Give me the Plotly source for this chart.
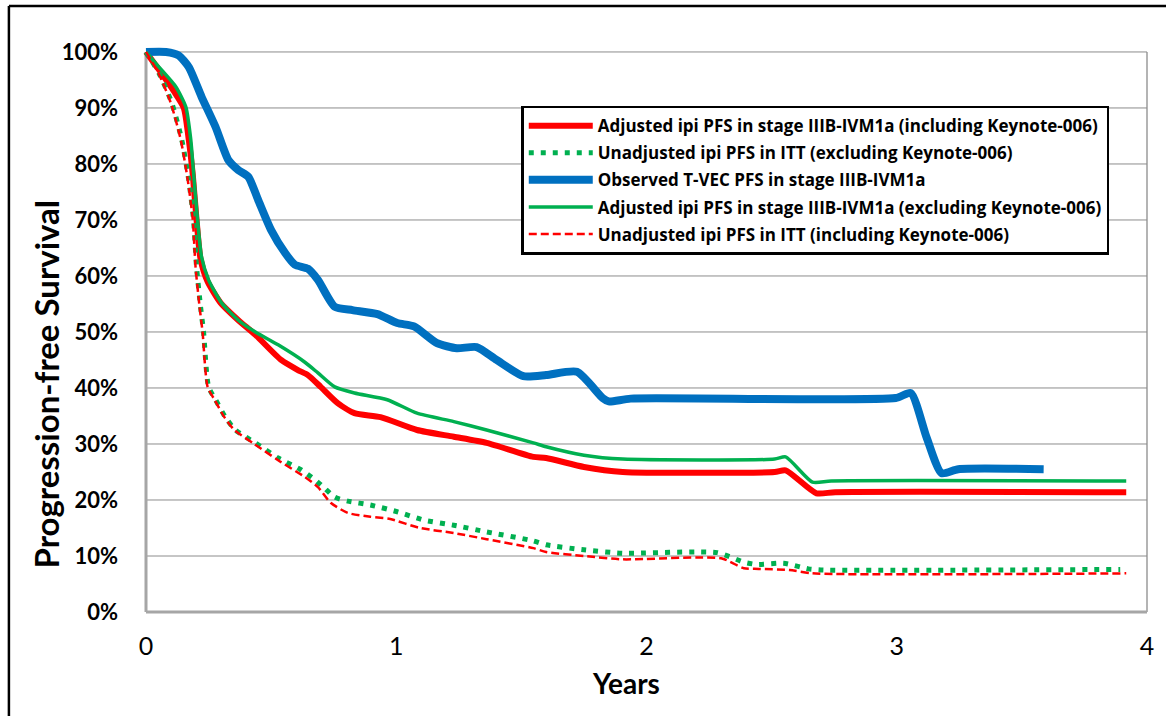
import plotly.graph_objects as go

# Progression-free survival curves (years, % progression-free)
adj_incl_t = [0, 0.052, 0.111, 0.151, 0.171, 0.187, 0.202, 0.218, 0.246, 0.298, 0.369, 0.437,
              0.54, 0.607, 0.647, 0.698, 0.766, 0.833, 0.937, 1.083, 1.23, 1.361, 1.548, 1.599,
              1.75, 1.905, 2.512, 2.556, 2.679, 2.754, 3.917]
adj_incl_pfs = [100, 96.8, 93, 90, 84.3, 78, 70, 63, 59, 55.2, 52.1, 49.5,
                45, 43.2, 42.3, 40.2, 37.3, 35.5, 34.8, 32.5, 31.3, 30.2, 27.7, 27.5,
                25.9, 25, 25, 25.3, 21.2, 21.4, 21.4]

unadj_excl_t = [0, 0.052, 0.103, 0.143, 0.171, 0.19, 0.202, 0.218, 0.23, 0.25, 0.278, 0.317,
                0.357, 0.437, 0.528, 0.619, 0.675, 0.714, 0.754, 0.806, 0.897, 1.004, 1.111,
                1.23, 1.361, 1.548, 1.599, 1.75, 1.905, 2.282, 2.389, 2.44, 2.548, 2.647,
                2.706, 3.893]
unadj_excl_pfs = [100, 96.2, 90.9, 84.3, 77.1, 70, 61.6, 54.5, 50, 40.2, 37.9, 34.8,
                  32.5, 30.2, 27.5, 25.4, 23.6, 22.1, 20.5, 19.8, 19.1, 17.9, 16.4,
                  15.5, 14.3, 12.7, 12, 11.1, 10.5, 10.6, 8.9, 8.5, 8.7, 7.7,
                  7.5, 7.6]

tvec_t = [0, 0.08, 0.13, 0.171, 0.222, 0.278, 0.329, 0.369, 0.409, 0.448, 0.5, 0.556, 0.595,
          0.647, 0.687, 0.754, 0.825, 0.925, 1.004, 1.071, 1.163, 1.242, 1.321, 1.401,
          1.508, 1.599, 1.722, 1.825, 1.849, 1.937, 2.996, 3.056, 3.119, 3.179, 3.246, 3.587]
tvec_pfs = [100, 100, 99.4, 97.3, 92, 86.6, 80.7, 78.9, 77.7, 73.6, 68.2, 64.1, 62,
            61.3, 59.3, 54.5, 53.9, 53.2, 51.6, 51, 48, 47.1, 47.3, 45,
            42.1, 42.3, 42.9, 38.2, 37.6, 38.1, 38.2, 39.1, 31.2, 24.8, 25.5, 25.5]

adj_excl_t = [0, 0.052, 0.119, 0.159, 0.179, 0.19, 0.206, 0.222, 0.25, 0.302, 0.369, 0.437,
              0.528, 0.635, 0.687, 0.754, 0.833, 0.964, 1.083, 1.23, 1.361, 1.548, 1.599,
              1.75, 1.905, 2.512, 2.556, 2.663, 2.738, 3.917]
adj_excl_pfs = [100, 97.3, 93.8, 90.2, 84.3, 78.4, 70, 63.4, 59.3, 55.2, 52.1, 50,
                47.7, 44.6, 42.7, 40.2, 39.1, 37.9, 35.5, 34, 32.5, 30.2, 29.5,
                28, 27.3, 27.3, 27.7, 23.2, 23.4, 23.4]

unadj_incl_t = [0, 0.052, 0.099, 0.139, 0.167, 0.187, 0.198, 0.214, 0.226, 0.246, 0.274,
                0.313, 0.353, 0.433, 0.528, 0.635, 0.687, 0.738, 0.806, 0.897, 0.976, 1.095,
                1.23, 1.361, 1.548, 1.599, 1.75, 1.905, 2.298, 2.389, 2.448, 2.571, 2.663, 3.917]
unadj_incl_pfs = [100, 96, 90.9, 84.3, 77.1, 70, 61.6, 54.5, 50, 40.2, 37.9,
                  34.8, 32.5, 30, 27.1, 24.1, 22.3, 19.5, 17.7, 17, 16.6, 15,
                  14.1, 13, 11.4, 10.7, 10, 9.4, 9.6, 7.8, 7.7, 7.5, 6.9, 6.9]

y_ticks = list(range(0, 101, 10))
x_ticks = [0, 1, 2, 3, 4]

RED = "#ff0000"
GREEN = "#00b050"
BLUE = "#0070c0"

series = [
    ("Adjusted ipi PFS in stage IIIB-IVM1a (including Keynote-006)", adj_incl_t, adj_incl_pfs,
     dict(color=RED, width=6)),
    ("Unadjusted ipi PFS in ITT (excluding Keynote-006)", unadj_excl_t, unadj_excl_pfs,
     dict(color=GREEN, width=5, dash="5px,7px")),
    ("Observed T-VEC PFS in stage IIIB-IVM1a", tvec_t, tvec_pfs,
     dict(color=BLUE, width=8)),
    ("Adjusted ipi PFS in stage IIIB-IVM1a (excluding Keynote-006)", adj_excl_t, adj_excl_pfs,
     dict(color=GREEN, width=3.5)),
    ("Unadjusted ipi PFS in ITT (including Keynote-006)", unadj_incl_t, unadj_incl_pfs,
     dict(color=RED, width=2.5, dash="8px,4px")),
]

fig = go.Figure()
for i, (name, xs, ys, line) in enumerate(series):
    fig.add_trace(go.Scatter(
        x=xs, y=ys, name=name, mode="lines",
        line=dict(shape="spline", smoothing=0.6, **line),
        legendgroup=f"g{i}",
    ))

# plot frame and horizontal gridlines
shapes = []
for v in y_ticks[1:]:
    shapes.append(dict(type="line", xref="x", yref="y", x0=0, x1=4, y0=v, y1=v,
                       line=dict(color="#8c8c8c", width=1), layer="below"))
shapes.append(dict(type="line", xref="x", yref="y", x0=0, x1=0, y0=0, y1=100,
                   line=dict(color="#a6a6a6", width=3), layer="below"))
shapes.append(dict(type="line", xref="paper", yref="y", x0=1, x1=1, y0=0, y1=100,
                   line=dict(color="#b4b4b4", width=2), layer="below"))
shapes.append(dict(type="line", xref="x", yref="paper", x0=0, x1=4, y0=0, y1=0,
                   line=dict(color="#a6a6a6", width=3), layer="below"))
# outer figure border (top and left edges)
shapes.append(dict(type="line", xref="paper", yref="paper", x0=-0.1313, x1=1.05,
                   y0=1.065, y1=1.065, line=dict(color="black", width=2.5)))
shapes.append(dict(type="line", xref="paper", yref="paper", x0=-0.1313, x1=-0.1313,
                   y0=1.065, y1=-0.3, line=dict(color="black", width=2.5)))

fig.update_layout(
    width=1166, height=716,
    margin=dict(l=141, r=12, t=43, b=104),
    paper_bgcolor="white", plot_bgcolor="white",
    font=dict(family="Lato, 'Open Sans', sans-serif", color="black"),
    shapes=shapes,
    showlegend=True,
    legend=dict(
        x=0.378, y=0.89, xanchor="left", yanchor="top",
        bordercolor="black", borderwidth=2.5, bgcolor="white",
        font=dict(family="'Open Sans', sans-serif", size=17, weight="bold", color="black"),
        itemwidth=64, tracegroupgap=2,
    ),
    xaxis=dict(
        range=[-0.02, 4], tickvals=x_ticks, ticktext=[str(v) for v in x_ticks],
        showgrid=False, zeroline=False, showline=False, ticks="",
        tickfont=dict(size=25), ticklabelstandoff=17,
    ),
    yaxis=dict(
        range=[0, 101.6], tickvals=y_ticks, ticktext=[f"{v}%" for v in y_ticks],
        showgrid=False, zeroline=False, showline=False, ticks="",
        tickfont=dict(size=22, weight="bold"), ticklabelstandoff=22,
    ),
    annotations=[
        dict(text="<b>Years</b>", xref="x", yref="paper", x=1.92, y=0,
             xanchor="center", yanchor="middle", yshift=-71, showarrow=False,
             font=dict(size=28)),
        dict(text="<b>Progression-free Survival</b>", xref="paper", yref="paper",
             x=0, y=0.4, xanchor="center", yanchor="middle", xshift=-95,
             textangle=-90, showarrow=False, font=dict(size=33)),
    ],
)

fig.write_html("out.html")
